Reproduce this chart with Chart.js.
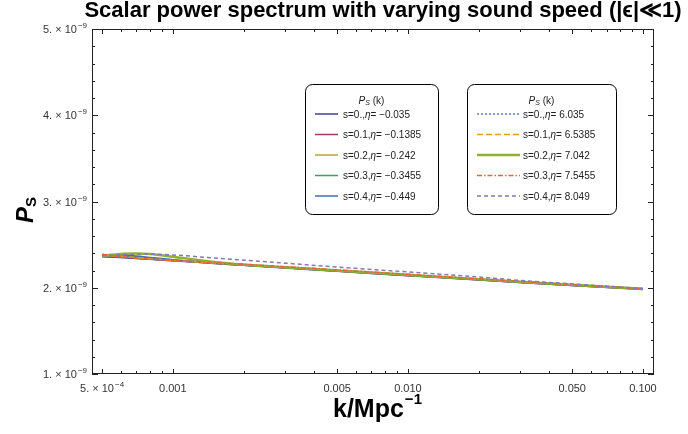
<!DOCTYPE html>
<html>
<head>
<meta charset="utf-8">
<script src="https://cdn.jsdelivr.net/npm/chart.js@4.4.1/dist/chart.umd.min.js"></script>
<style>
  html, body { margin: 0; padding: 0; background: #fff; }
  #wrap { width: 688px; height: 434px; }
</style>
</head>
<body>
<div id="wrap"><canvas id="psChart" width="688" height="434"></canvas></div>
<script>
// k in Mpc^-1
const kValues = [5e-4, 6e-4, 7e-4, 8e-4, 1e-3, 1.5e-3, 2e-3, 3e-3, 5e-3, 7e-3, 1e-2, 2e-2, 3e-2, 5e-2, 7e-2, 0.1];

// P_S(k) in units of 1e-9
// negative eta branch (solid lines)
const psS00neg = [2.360, 2.350, 2.340, 2.330, 2.313, 2.282, 2.260, 2.229, 2.191, 2.166, 2.140, 2.090, 2.060, 2.025, 2.003, 1.980];
const psS01neg = [2.365, 2.353, 2.342, 2.332, 2.315, 2.284, 2.262, 2.231, 2.193, 2.168, 2.142, 2.092, 2.062, 2.027, 2.005, 1.982];
const psS02neg = [2.372, 2.362, 2.350, 2.338, 2.318, 2.286, 2.263, 2.232, 2.194, 2.169, 2.143, 2.094, 2.064, 2.029, 2.007, 1.984];
const psS03neg = [2.378, 2.372, 2.360, 2.345, 2.322, 2.288, 2.264, 2.233, 2.195, 2.170, 2.144, 2.095, 2.065, 2.030, 2.008, 1.985];
const psS04neg = [2.382, 2.380, 2.368, 2.352, 2.326, 2.290, 2.265, 2.234, 2.196, 2.171, 2.145, 2.096, 2.066, 2.031, 2.009, 1.986];
// positive eta branch (styled lines)
const psS00pos = [2.368, 2.357, 2.345, 2.334, 2.317, 2.286, 2.264, 2.234, 2.196, 2.172, 2.146, 2.097, 2.068, 2.033, 2.011, 1.987];
const psS01pos = [2.375, 2.365, 2.350, 2.337, 2.318, 2.287, 2.266, 2.237, 2.200, 2.175, 2.149, 2.099, 2.069, 2.034, 2.012, 1.988];
const psS02pos = [2.372, 2.392, 2.396, 2.390, 2.360, 2.300, 2.270, 2.238, 2.201, 2.176, 2.150, 2.100, 2.070, 2.035, 2.012, 1.988];
const psS03pos = [2.388, 2.362, 2.342, 2.330, 2.318, 2.292, 2.272, 2.244, 2.207, 2.182, 2.156, 2.104, 2.073, 2.037, 2.014, 1.989];
const psS04pos = [2.370, 2.382, 2.390, 2.390, 2.380, 2.345, 2.320, 2.285, 2.240, 2.212, 2.183, 2.124, 2.086, 2.044, 2.018, 1.990];

const negLabels = ['s=0.,η= −0.035', 's=0.1,η= −0.1385', 's=0.2,η= −0.242', 's=0.3,η= −0.3455', 's=0.4,η= −0.449'];
const posLabels = ['s=0.,η= 6.035', 's=0.1,η= 6.5385', 's=0.2,η= 7.042', 's=0.3,η= 7.5455', 's=0.4,η= 8.049'];

// tick values and labels ([base, exponent])
const xMajorTicks = [5e-4, 0.001, 0.005, 0.01, 0.05, 0.1];
const xMajorLabels = [['5. × 10', '−4'], ['0.001', ''], ['0.005', ''], ['0.010', ''], ['0.050', ''], ['0.100', '']];
const xMinorTicks = [6e-4, 7e-4, 8e-4, 9e-4, 0.002, 0.003, 0.004, 0.006, 0.007, 0.008, 0.009, 0.02, 0.03, 0.04, 0.06, 0.07, 0.08, 0.09];
const yMajorTicks = [1, 2, 3, 4, 5];
const yMajorLabels = [['1. × 10', '−9'], ['2. × 10', '−9'], ['3. × 10', '−9'], ['4. × 10', '−9'], ['5. × 10', '−9']];

const FONT = '"Liberation Sans", Arial, sans-serif';

const negStyles = [
    { color: '#3b3f97', width: 1.5, dash: [] },
    { color: '#9b3a6e', width: 1.5, dash: [] },
    { color: '#b6a241', width: 1.5, dash: [] },
    { color: '#3f9f5b', width: 1.5, dash: [] },
    { color: '#4a6cb6', width: 1.5, dash: [] }
];
const posStyles = [
    { color: '#5e81b5', width: 1.5, dash: [2, 2] },
    { color: '#e19c24', width: 1.5, dash: [6, 3] },
    { color: '#8fb032', width: 2.5, dash: [] },
    { color: '#eb6235', width: 1.5, dash: [5, 2, 1.5, 2] },
    { color: '#8778b3', width: 1.5, dash: [4, 3] }
];

function toPoints(vals) {
    return kValues.map((k, i) => ({ x: k, y: vals[i] }));
}

const negSeries = [psS00neg, psS01neg, psS02neg, psS03neg, psS04neg];
const posSeries = [psS00pos, psS01pos, psS02pos, psS03pos, psS04pos];

const datasets = [];
negSeries.forEach((vals, i) => datasets.push({ label: negLabels[i], data: toPoints(vals), st: negStyles[i] }));
posSeries.forEach((vals, i) => datasets.push({ label: posLabels[i], data: toPoints(vals), st: posStyles[i] }));
datasets.forEach((ds, i) => {
    ds.borderColor = ds.st.color;
    ds.borderWidth = ds.st.width;
    ds.borderDash = ds.st.dash;
    ds.pointRadius = 0;
    ds.fill = false;
    ds.cubicInterpolationMode = 'monotone';
    ds.order = datasets.length - i; // later series on top
});

function line(ctx, x1, y1, x2, y2) {
    ctx.beginPath();
    ctx.moveTo(x1, y1);
    ctx.lineTo(x2, y2);
    ctx.stroke();
}

function roundRect(ctx, x, y, w, h, r) {
    ctx.beginPath();
    ctx.moveTo(x + r, y);
    ctx.arcTo(x + w, y, x + w, y + h, r);
    ctx.arcTo(x + w, y + h, x, y + h, r);
    ctx.arcTo(x, y + h, x, y, r);
    ctx.arcTo(x, y, x + w, y, r);
    ctx.closePath();
}

// tick label with optional superscript; align: 'center' or 'right'
function drawTickLabel(ctx, parts, x, baseY, align) {
    ctx.font = '11px ' + FONT;
    const wb = ctx.measureText(parts[0]).width;
    ctx.font = '8px ' + FONT;
    const we = parts[1] ? ctx.measureText(parts[1]).width + 1 : 0;
    const total = wb + we;
    let x0 = align === 'right' ? x - total : x - total / 2;
    ctx.textAlign = 'left';
    ctx.font = '11px ' + FONT;
    ctx.fillText(parts[0], x0, baseY);
    if (parts[1]) {
        ctx.font = '8px ' + FONT;
        ctx.fillText(parts[1], x0 + wb + 1, baseY - 5);
    }
}

// frame with inward ticks on all four sides, plus tick labels
const frameTicks = {
    id: 'frameTicks',
    afterDatasetsDraw(chart) {
        const { ctx, chartArea: a, scales } = chart;
        ctx.save();
        ctx.strokeStyle = '#222';
        ctx.lineWidth = 1;
        ctx.setLineDash([]);
        ctx.strokeRect(a.left + 0.5, a.top + 0.5, a.right - a.left - 1, a.bottom - a.top - 1);
        scales.x.ticks.forEach(t => {
            const px = Math.round(scales.x.getPixelForValue(t.value)) + 0.5;
            const len = xMajorTicks.includes(t.value) ? 5 : 3;
            line(ctx, px, a.bottom, px, a.bottom - len);
            line(ctx, px, a.top, px, a.top + len);
        });
        scales.y.ticks.forEach(t => {
            const py = Math.round(scales.y.getPixelForValue(t.value)) + 0.5;
            const major = Math.abs(t.value - Math.round(t.value)) < 1e-6;
            const len = major ? 6 : 3;
            line(ctx, a.left, py, a.left + len, py);
            line(ctx, a.right, py, a.right - len, py);
        });

        ctx.fillStyle = '#333';
        ctx.textBaseline = 'alphabetic';
        xMajorTicks.forEach((v, i) => {
            drawTickLabel(ctx, xMajorLabels[i], scales.x.getPixelForValue(v), a.bottom + 18, 'center');
        });
        yMajorTicks.forEach((v, i) => {
            drawTickLabel(ctx, yMajorLabels[i], a.left - 5, scales.y.getPixelForValue(v) + 4, 'right');
        });
        ctx.restore();
    }
};

function drawLegendBox(ctx, box, list) {
    ctx.save();
    roundRect(ctx, box.x + 0.5, box.y + 0.5, box.w, box.h, 7);
    ctx.fillStyle = '#fff';
    ctx.fill();
    ctx.strokeStyle = '#000';
    ctx.lineWidth = 1;
    ctx.stroke();

    // title P_S (k)
    ctx.fillStyle = '#222';
    ctx.textBaseline = 'alphabetic';
    ctx.textAlign = 'left';
    ctx.font = 'italic 10px ' + FONT;
    const wP = ctx.measureText('P').width;
    ctx.font = 'italic 7px ' + FONT;
    const wS = ctx.measureText('S').width;
    ctx.font = '10px ' + FONT;
    const wK = ctx.measureText(' (k)').width;
    let tx = box.x + box.w / 2 - (wP + wS + wK) / 2;
    const ty = box.y + 20;
    ctx.font = 'italic 10px ' + FONT;
    ctx.fillText('P', tx, ty);
    tx += wP;
    ctx.font = 'italic 7px ' + FONT;
    ctx.fillText('S', tx, ty + 1);
    tx += wS;
    ctx.font = '10px ' + FONT;
    ctx.fillText(' (k)', tx, ty);

    list.forEach((ds, i) => {
        const yy = box.y + 30 + i * 20.5;
        ctx.strokeStyle = ds.borderColor;
        ctx.lineWidth = ds.borderWidth;
        ctx.setLineDash(ds.borderDash);
        line(ctx, box.x + box.s0, yy, box.x + box.s1, yy);
        ctx.setLineDash([]);
        // label with italic eta
        const parts = ds.label.split('η');
        let x = box.x + box.t;
        ctx.fillStyle = '#222';
        ctx.font = '10px ' + FONT;
        ctx.fillText(parts[0], x, yy + 3.5);
        x += ctx.measureText(parts[0]).width;
        ctx.font = 'italic 10px ' + FONT;
        ctx.fillText('η', x, yy + 3.5);
        x += ctx.measureText('η').width;
        ctx.font = '10px ' + FONT;
        ctx.fillText(parts[1], x, yy + 3.5);
    });
    ctx.restore();
}

// title, axis titles and the two legend boxes
const decorations = {
    id: 'decorations',
    afterDraw(chart) {
        const ctx = chart.ctx;
        ctx.save();
        ctx.fillStyle = '#000';
        ctx.textBaseline = 'alphabetic';
        ctx.textAlign = 'center';
        ctx.font = 'bold 22px ' + FONT;
        ctx.fillText('Scalar power spectrum with varying sound speed (|ϵ|≪1)', 383, 17);

        // x title k/Mpc^-1
        ctx.textAlign = 'left';
        ctx.font = 'bold 25px ' + FONT;
        const wMain = ctx.measureText('k/Mpc').width;
        ctx.font = 'bold 15px ' + FONT;
        const wSup = ctx.measureText('−1').width;
        let x0 = 377 - (wMain + wSup) / 2;
        ctx.font = 'bold 25px ' + FONT;
        ctx.fillText('k/Mpc', x0, 417);
        ctx.font = 'bold 15px ' + FONT;
        ctx.fillText('−1', x0 + wMain + 1, 404);

        // y title P_S
        ctx.save();
        ctx.translate(33, 210);
        ctx.rotate(-Math.PI / 2);
        ctx.font = 'bold italic 24px ' + FONT;
        const wP = ctx.measureText('P').width;
        ctx.font = 'bold 15px ' + FONT;
        const wS = ctx.measureText('S').width;
        let y0 = -(wP + wS) / 2;
        ctx.font = 'bold italic 24px ' + FONT;
        ctx.fillText('P', y0, 0);
        ctx.font = 'bold 15px ' + FONT;
        ctx.fillText('S', y0 + wP, 3);
        ctx.restore();
        ctx.restore();

        const ds = chart.data.datasets;
        drawLegendBox(ctx, { x: 305, y: 84, w: 133, h: 130, s0: 10, s1: 33, t: 38 }, ds.slice(0, 5));
        drawLegendBox(ctx, { x: 467, y: 84, w: 149, h: 130, s0: 10, s1: 53, t: 56 }, ds.slice(5, 10));
    }
};

new Chart(document.getElementById('psChart').getContext('2d'), {
    type: 'line',
    data: { datasets: datasets },
    options: {
        responsive: false,
        devicePixelRatio: 1,
        animation: false,
        layout: { padding: { top: 29, right: 34, left: 0, bottom: 0 } },
        plugins: {
            legend: { display: false },
            tooltip: { enabled: false },
            title: { display: false }
        },
        scales: {
            x: {
                type: 'logarithmic',
                min: 4.53e-4,
                max: 0.1114,
                grid: { display: false, drawTicks: false },
                border: { display: false },
                afterBuildTicks: scale => {
                    scale.ticks = xMajorTicks.concat(xMinorTicks).sort((a, b) => a - b).map(v => ({ value: v }));
                },
                afterFit: scale => { scale.height = 60; },
                ticks: { display: false, autoSkip: false, maxRotation: 0 }
            },
            y: {
                type: 'linear',
                min: 1,
                max: 5,
                grid: { display: false, drawTicks: false },
                border: { display: false },
                afterFit: scale => { scale.width = 92; },
                ticks: { display: false, stepSize: 0.2, autoSkip: false }
            }
        }
    },
    plugins: [frameTicks, decorations]
});
</script>
</body>
</html>
